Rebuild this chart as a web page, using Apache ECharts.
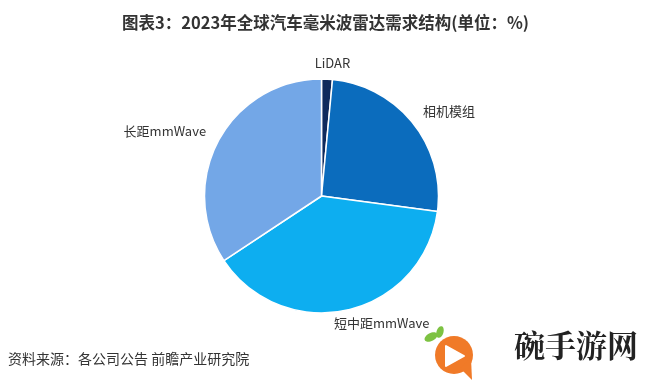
<!DOCTYPE html>
<html><head><meta charset="utf-8">
<script src="https://cdn.jsdelivr.net/npm/echarts@6/dist/echarts.min.js"></script>
<style>html,body{margin:0;padding:0;background:#fff}#c{width:651px;height:383px}</style>
</head><body><div id="c"></div>
<script>
const categories = ['LiDAR', '相机模组', '短中距mmWave', '长距mmWave'];
const values = [1.5, 25.6, 38.6, 34.3];
const colors = ['#0f2a5c', '#0b6cbd', '#0daef0', '#73a7e7'];
const titleText = '图表3：2023年全球汽车毫米波雷达需求结构(单位：%)';
const sourceText = '资料来源：各公司公告 前瞻产业研究院';

const chart = echarts.init(document.getElementById('c'), null, {renderer: 'canvas'});
const labelShift = [[-20, -2], [-8, -3], [-24, -1], [7, -3]];
chart.setOption({
  backgroundColor: '#ffffff',
  animation: false,
  title: {
    text: titleText, left: 'center', top: 9,
    textStyle: {fontSize: 16.5, fontWeight: 'bold', color: '#333', fontFamily: 'Noto Sans CJK SC'}
  },
  series: [{
    type: 'pie',
    center: [321.5, 196],
    radius: [0, 117],
    startAngle: 90,
    clockwise: true,
    itemStyle: {borderColor: '#fff', borderWidth: 1.5},
    label: {
      show: true, position: 'outside', color: '#333', fontSize: 13,
      fontFamily: 'Noto Sans CJK SC'
    },
    labelLine: {show: false, length: 14, length2: 2},
    labelLayout: function (p) {
      const s = labelShift[p.dataIndex] || [0, 0];
      return {dx: s[0], dy: s[1]};
    },
    data: categories.map((n, i) => ({name: n, value: values[i], itemStyle: {color: colors[i]}}))
  }],
  graphic: [
    {type: 'text', left: 8, top: 352, style: {text: sourceText, fontSize: 14, fill: '#333', fontFamily: 'Noto Sans CJK SC'}},
    {type: 'rect', zlevel: 1, shape: {x: 430, y: 318, width: 221, height: 65}, style: {fill: '#fff'}, z: 10},
    {type: 'circle', zlevel: 1, shape: {cx: 454, cy: 355, r: 19}, style: {fill: '#f07a28'}, z: 11},
    {type: 'polygon', zlevel: 1, shape: {points: [[460, 368], [472, 380], [471, 358]]}, style: {fill: '#f07a28'}, z: 11},
    {type: 'polygon', zlevel: 1, shape: {points: [[446, 346], [446, 366], [464, 356]]}, style: {fill: '#fff', stroke: '#fff', lineWidth: 2, lineJoin: 'round'}, z: 12},
    {type: 'ellipse', zlevel: 1, shape: {cx: 431, cy: 337, rx: 7, ry: 4}, rotation: 0.5, originX: 431, originY: 337, style: {fill: '#7dc242'}, z: 11},
    {type: 'ellipse', zlevel: 1, shape: {cx: 440, cy: 332, rx: 3.5, ry: 6}, rotation: -0.3, originX: 440, originY: 332, style: {fill: '#7dc242'}, z: 11},
    {type: 'text', zlevel: 1, left: 514, top: 330, z: 12, style: {text: '碗手游网', fontSize: 31, fontWeight: 'bold', fill: '#222', fontFamily: 'Noto Serif CJK SC, Noto Sans CJK SC'}}
  ]
});
</script></body></html>
